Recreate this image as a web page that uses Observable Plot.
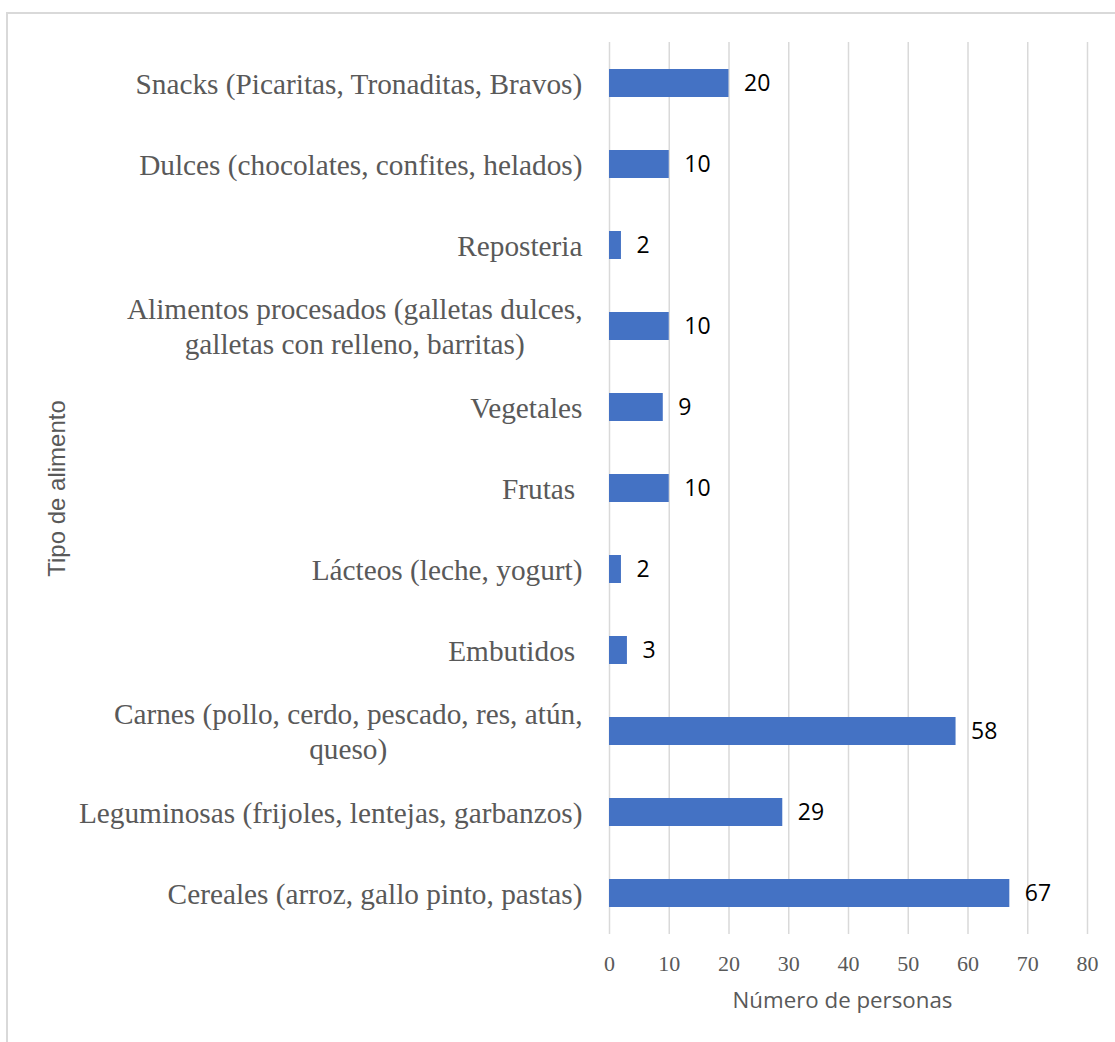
<!DOCTYPE html>
<html>
<head>
<meta charset="utf-8">
<script src="https://cdn.jsdelivr.net/npm/d3@7"></script>
<script src="https://cdn.jsdelivr.net/npm/@observablehq/plot@0.6"></script>
<style>
  html, body { margin: 0; padding: 0; background: #fff; overflow: hidden; }
  #wrap { margin: 12px 0 0 6px; border-top: 2px solid #d9d9d9; border-left: 2px solid #d9d9d9; width: 1107px; height: 1028px; }
  svg text, svg tspan { white-space: pre; }
</style>
</head>
<body>
<div id="wrap"></div>
<script>
const categories = [
  "Snacks (Picaritas, Tronaditas, Bravos)",
  "Dulces (chocolates, confites, helados)",
  "Reposteria",
  "Alimentos procesados (galletas dulces,\ngalletas con relleno, barritas)",
  "Vegetales",
  "Frutas ",
  "Lácteos (leche, yogurt)",
  "Embutidos ",
  "Carnes (pollo, cerdo, pescado, res, atún,\nqueso)",
  "Leguminosas (frijoles, lentejas, garbanzos)",
  "Cereales (arroz, gallo pinto, pastas)"
];
const values = [20, 10, 2, 10, 9, 10, 2, 3, 58, 29, 67];
const xTicks = [0, 10, 20, 30, 40, 50, 60, 70, 80];
const xTitle = "Número de personas";
const yTitle = "Tipo de alimento";

const data = categories.map((c, i) => ({cat: c, value: values[i]}));

const labelFont = "Liberation Serif";
const labelSize = 29.3;
const ctx = document.createElement("canvas").getContext("2d");
ctx.font = `${labelSize}px '${labelFont}'`;
const blockWidth = s => Math.max(...s.split("\n").map(l => ctx.measureText(l).width));
const labelGap = 27;

const labelMarks = data.map(d => Plot.text([d], {
  y: "cat",
  text: "cat",
  frameAnchor: "left",
  textAnchor: "middle",
  lineHeight: 1.2,
  dx: -(labelGap + blockWidth(d.cat) / 2),
  dy: -1,
  fontFamily: labelFont,
  fontSize: labelSize,
  fill: "#595959"
}));

const W = 1107, H = 1028;
const chart = Plot.plot({
  width: W,
  height: H,
  marginLeft: 601,
  marginRight: 28,
  marginTop: 28,
  marginBottom: 108,
  style: {background: "transparent", overflow: "visible"},
  x: {domain: [0, 80], label: null},
  y: {domain: categories, paddingInner: 0.655, paddingOuter: 0.3275, label: null, axis: null},
  marks: [
    Plot.gridX(xTicks, {stroke: "#d9d9d9", strokeOpacity: 1, strokeWidth: 1.5}),
    Plot.barX(data, {x: "value", y: "cat", fill: "#4472C4"}),
    Plot.text(data, {x: "value", y: "cat", text: d => String(d.value), textAnchor: "start", dx: 15, fontFamily: "Open Sans", fontSize: 23, fill: "#000"}),
    ...labelMarks,
    Plot.axisX(xTicks, {tickSize: 0, tickPadding: 21, fontSize: 22, fontFamily: "Liberation Serif", color: "#595959", label: null}),
    Plot.text([xTitle], {frameAnchor: "bottom", text: d => d, dy: 66, dx: -6, lineAnchor: "middle", fontFamily: "Open Sans", fontSize: 22.3, fill: "#595959"}),
    Plot.text([yTitle], {frameAnchor: "left", text: d => d, rotate: -90, dx: -552, textAnchor: "middle", lineAnchor: "middle", fontFamily: "Liberation Sans", fontSize: 24, fill: "#595959"})
  ]
});
document.getElementById("wrap").appendChild(chart);
</script>
</body>
</html>
